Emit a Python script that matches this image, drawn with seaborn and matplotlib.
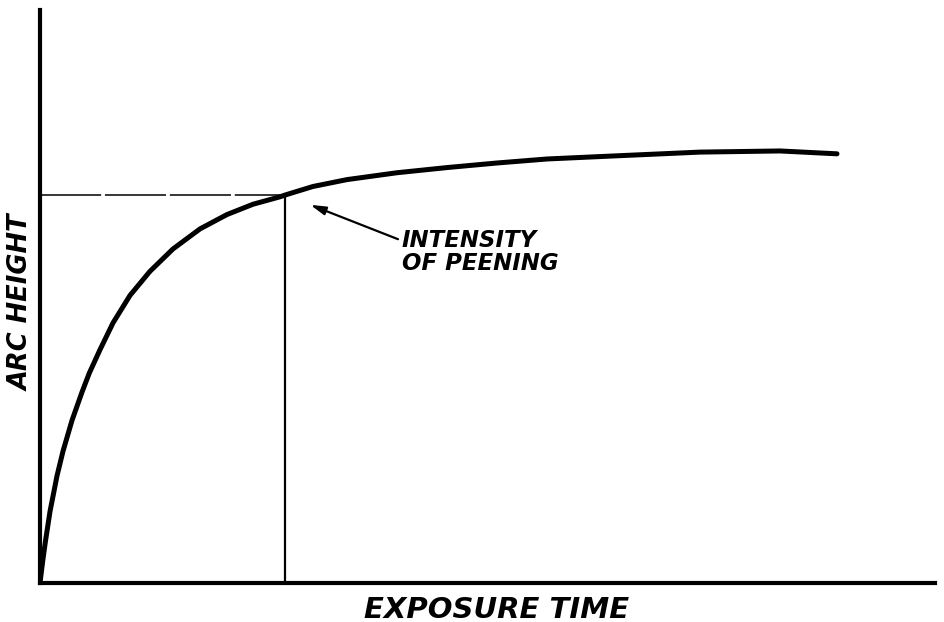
import numpy as np
import pandas as pd
import seaborn as sns
from matplotlib import pyplot as plt

# values (axis units 0..100)
exposure = [0.0, 0.3, 0.6, 1.12, 1.90, 2.57, 3.58, 4.69, 5.50, 6.70, 8.16,
            10.06, 12.29, 14.86, 17.88, 20.89, 23.80, 26.82, 27.37, 30.50,
            34.30, 39.89, 45.47, 51.06, 56.65, 63.69, 73.74, 82.68, 89.05]
arc_height = [0.0, 3.8, 7.2, 12.5, 18.7, 23.0, 28.4, 33.3, 36.6, 40.7, 45.4,
              50.2, 54.4, 58.3, 61.8, 64.3, 66.1, 67.4, 67.7, 69.2,
              70.4, 71.6, 72.5, 73.3, 74.0, 74.5, 75.2, 75.4, 74.9]
intensity_x = 27.4
intensity_y = 67.7

df = pd.DataFrame({'exposure': exposure, 'arc_height': arc_height})

sns.set_style('white')
plt.rcParams['font.family'] = ['DejaVu Sans']
plt.rcParams['text.color'] = 'black'
plt.rcParams['axes.labelcolor'] = 'black'

f = plt.figure(figsize=(9.45, 6.22), dpi=100)
ax = f.add_axes([40 / 945, 39 / 622, 895 / 945, 573 / 622])

sns.lineplot(data=df, x='exposure', y='arc_height', ax=ax, color='black',
             linewidth=3.6, sort=False, solid_capstyle='round',
             solid_joinstyle='round')

# reference lines for the intensity point
ax.plot([0, intensity_x], [intensity_y, intensity_y], color='black',
        linewidth=1.1, linestyle=(0, (40, 2.5)))
ax.plot([intensity_x, intensity_x], [0, intensity_y], color='black',
        linewidth=1.6)

ax.annotate('', xy=(30.2, 66.0), xytext=(40.0, 60.0),
            arrowprops=dict(arrowstyle='-|>,head_length=0.9,head_width=0.25',
                            color='black', linewidth=1.6, shrinkA=0, shrinkB=0))
ax.text(40.4, 61.8, 'INTENSITY\nOF PEENING', ha='left', va='top',
        fontsize=16.5, fontweight='bold', fontstyle='italic', linespacing=1.0)

ax.set_xlim(0, 100)
ax.set_ylim(0, 100)
ax.set_xticks([])
ax.set_yticks([])

for side in ['top', 'right']:
    ax.spines[side].set_visible(False)
for side in ['left', 'bottom']:
    ax.spines[side].set_linewidth(3.0)
    ax.spines[side].set_color('black')

ax.set_xlabel('EXPOSURE TIME', fontsize=21, fontweight='bold',
              fontstyle='italic')
ax.xaxis.set_label_coords(0.51, -0.022)
ax.xaxis.label.set_va('top')
ax.set_ylabel('ARC HEIGHT', fontsize=18.5, fontweight='bold',
              fontstyle='italic')
ax.yaxis.set_label_coords(-0.02, 0.49)
ax.yaxis.label.set_va('center')

plt.savefig('out.png', dpi=100)
plt.close()
